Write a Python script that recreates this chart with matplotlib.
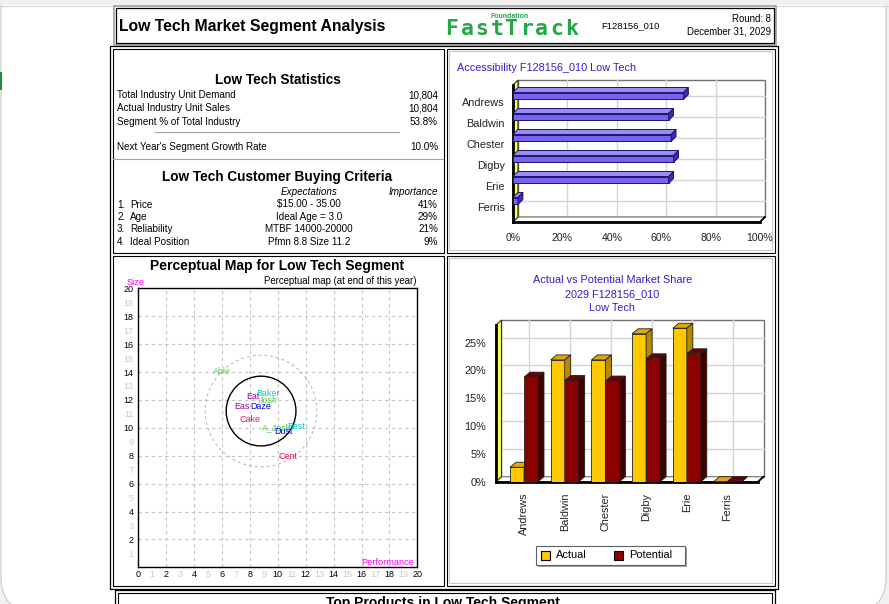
import numpy as np
import matplotlib.pyplot as plt
from matplotlib.patches import Rectangle, Polygon, Circle, FancyBboxPatch

plt.rcParams['font.family'] = ['Liberation Sans', 'DejaVu Sans']

W, H = 889, 604

# header
report_title = "Low Tech Market Segment Analysis"
team_id = "F128156_010"
round_text = "Round: 8"
date_text = "December 31, 2029"

# statistics panel
stat_labels = ["Total Industry Unit Demand", "Actual Industry Unit Sales", "Segment % of Total Industry"]
stat_values = ["10,804", "10,804", "53.8%"]
growth_label = "Next Year's Segment Growth Rate"
growth_value = "10.0%"
criteria = ["Price", "Age", "Reliability", "Ideal Position"]
expectations = ["$15.00 - 35.00", "Ideal Age = 3.0", "MTBF 14000-20000", "Pfmn 8.8 Size 11.2"]
importance = ["41%", "29%", "21%", "9%"]

# companies
companies = ["Andrews", "Baldwin", "Chester", "Digby", "Erie", "Ferris"]
accessibility = [69, 63, 64, 65, 63, 2]
actual_share = [2.6, 21.9, 21.9, 26.6, 27.6, 0.0]
potential_share = [18.8, 18.2, 18.1, 22.1, 23.0, 0.0]

# perceptual map
products = ["Able", "Eat", "Baker", "Josh", "Eas", "Daze", "Cake", "A_Josh", "Best", "Dust", "Cent"]
pfmn = [6.0, 8.22, 9.32, 9.3, 7.41, 8.76, 8.0, 9.94, 11.29, 10.43, 10.72]
size = [14.02, 12.23, 12.47, 11.99, 11.51, 11.51, 10.6, 10.0, 10.08, 9.77, 7.93]
prod_colors = ["#55d855", "#990099", "#00cccc", "#55cc44", "#990099", "#0000ee",
               "#ee1144", "#44cc44", "#00cccc", "#0000ee", "#ee1144"]
ideal_pfmn, ideal_size = 8.8, 11.2
fine_cut, rough_cut = 2.5, 4.0

fig = plt.figure(figsize=(W / 100, H / 100), dpi=100, facecolor='#f1f1f1')

bg = fig.add_axes([0, 0, 1, 1])
bg.set_xlim(0, W)
bg.set_ylim(H, 0)
bg.axis('off')


def box(x0, y0, x1, y1, ec='black', lw=0.8, fc='none', z=2):
    bg.add_patch(Rectangle((x0, y0), x1 - x0, y1 - y0, fc=fc, ec=ec, lw=lw, zorder=z))


def txt(x, y, s, size=7.1, ha='left', **kw):
    bg.text(x, y, s, fontsize=size, ha=ha, va='center', **kw)


def px_axes(x0, y0, x1, y1):
    return fig.add_axes([x0 / W, 1 - y1 / H, (x1 - x0) / W, (y1 - y0) / H])


# page
bg.add_patch(FancyBboxPatch((1, -40), 885, 652, boxstyle='round,pad=0,rounding_size=35',
                            fc='white', ec='#c4c4c4', lw=0.7, zorder=0))
box(0, 0, W, 5, ec='none', fc='#f0f0f0', z=1)
bg.plot([0, W], [5.5, 5.5], color='#d4d4d4', lw=0.8, zorder=1)
box(0, 72, 1.5, 90, ec='none', fc='#1f8f3f', z=1)

# header box
box(114, 6, 776, 45, ec='#a0a0a0', lw=1.2)
box(116, 8, 774, 43, ec='black', lw=0.9)
txt(119, 26, report_title, size=11.3, weight='bold')
for i, ch in enumerate("FastTrack"):
    bg.text(452 + 15 * i, 29, ch, fontsize=15.5, family='DejaVu Sans Mono', weight='bold',
            color='#22a845', ha='center', va='center')
txt(510, 16, "Foundation", size=5, ha='center', color='#22a845', weight='bold')
txt(601, 26, team_id, size=6.8)
txt(771, 19, round_text, size=6.9, ha='right')
txt(771, 32, date_text, size=6.9, ha='right')

# outer grid frame
box(110, 45.5, 777.5, 588.5, lw=0.9)
box(112.5, 48.5, 443.5, 252.5)
box(446.5, 48.5, 774.5, 252.5)
box(112.5, 255.5, 443.5, 585.5)
box(446.5, 255.5, 774.5, 585.5)
box(449, 51, 771.5, 249.5, ec='#c8c8c8', lw=0.8)
box(449, 258, 771.5, 582.5, ec='#c8c8c8', lw=0.8)

# statistics
txt(277.5, 80, "Low Tech Statistics", size=9.8, ha='center', weight='bold')
for k, (lab, val) in enumerate(zip(stat_labels, stat_values)):
    y = 95 + 13.3 * k
    txt(117, y, lab)
    txt(438, y, val, ha='right')
bg.plot([155, 399], [131.7, 131.7], color='#a0a0a0', lw=0.8)
txt(117, 147, growth_label)
txt(438, 147, growth_value, ha='right')
bg.plot([113, 443], [159.3, 159.3], color='#a0a0a0', lw=0.8)
txt(277.5, 177, "Low Tech Customer Buying Criteria", size=9.8, ha='center', weight='bold')
txt(309, 192, "Expectations", ha='center', style='italic')
txt(438, 192, "Importance", ha='right', style='italic')
for k in range(len(criteria)):
    y = 204.5 + 12.5 * k
    txt(117, y, f"{k + 1}.")
    txt(130, y, criteria[k])
    txt(309, y, expectations[k], ha='center')
    txt(438, y, importance[k], ha='right')

# ---------- accessibility (horizontal 3D bars) ----------
txt(457, 68, "Accessibility F128156_010 Low Tech", size=7.8, color='#3a18d0')
acc = px_axes(513, 80, 760, 222)
acc.set_xlim(0, 100)
floor_front, top_back = 5.70, -1.062
acc.set_ylim(floor_front, top_back)
acc.patch.set_visible(False)
for s in acc.spines.values():
    s.set_visible(False)
ddx, ddy = 2.0, 0.238
floor_back = floor_front - ddy
idx = np.arange(len(companies))
bar_y = idx - 0.3
acc.add_patch(Polygon([(ddx, floor_back), (ddx, top_back), (100 + ddx, top_back), (100 + ddx, floor_back)],
                      fc='white', ec='#707070', lw=1, clip_on=False, zorder=0))
for v in range(20, 100, 20):
    acc.plot([v + ddx, v + ddx], [top_back, floor_back], color='#d4d4d4', lw=1, clip_on=False, zorder=1)
for y in bar_y:
    acc.plot([ddx, 100 + ddx], [y, y], color='#d4d4d4', lw=1, clip_on=False, zorder=1)
acc.add_patch(Polygon([(0, floor_front), (ddx, floor_back), (100 + ddx, floor_back), (100, floor_front)],
                      fc='white', ec='#707070', lw=0.8, clip_on=False, zorder=1))
acc.add_patch(Polygon([(0, floor_front), (0, top_back + ddy), (ddx, top_back), (ddx, floor_back)],
                      fc='#ffff55', ec='#303030', lw=0.8, clip_on=False, zorder=2))
acc.plot([0, 100], [floor_front, floor_front], color='black', lw=2, clip_on=False, zorder=2)
acc.plot([0, 0], [top_back + ddy, floor_front], color='black', lw=2, clip_on=False, zorder=2)
acc.plot([100, 100 + ddx], [floor_front, floor_back], color='black', lw=1.3, clip_on=False, zorder=2)
bh = 0.333
acc.barh(bar_y, accessibility, height=bh, color='#7664f0', edgecolor='#1c1470', lw=0.7, zorder=3)
for y, v in zip(bar_y, accessibility):
    y0, y1 = y - bh / 2, y + bh / 2
    acc.add_patch(Polygon([(0, y0), (ddx, y0 - ddy), (v + ddx, y0 - ddy), (v, y0)],
                          fc='#9a8cf5', ec='#1c1470', lw=0.7, clip_on=False, zorder=3))
    acc.add_patch(Polygon([(v, y0), (v + ddx, y0 - ddy), (v + ddx, y1 - ddy), (v, y1)],
                          fc='#3b2ea8', ec='#1c1470', lw=0.7, clip_on=False, zorder=3))
acc.set_yticks(idx, companies)
acc.set_xticks(range(0, 101, 20), [f"{v}%" for v in range(0, 101, 20)])
acc.tick_params(axis='y', length=0, pad=6, labelsize=7.8, labelcolor='#222222')
acc.tick_params(axis='x', length=0, pad=8, labelsize=7.6, labelcolor='#222222')

# ---------- perceptual map ----------
txt(277.5, 266, "Perceptual Map for Low Tech Segment", size=10, ha='center', weight='bold')
txt(416, 281, "Perceptual map (at end of this year)", size=6.9, ha='right')
pm = px_axes(138.3, 288.3, 417.3, 567.3)
pm.set_xlim(0, 20)
pm.set_ylim(0, 20)
for s in pm.spines.values():
    s.set_linewidth(1)
for v in range(2, 20, 2):
    pm.axvline(v, color='#c4c4c4', lw=0.8, ls=(0, (3, 3)), zorder=0)
    pm.axhline(v, color='#c4c4c4', lw=0.8, ls=(0, (3, 3)), zorder=0)
pm.set_xticks(range(21))
pm.set_yticks(range(1, 21))
pm.tick_params(length=0, labelsize=6.5)
pm.tick_params(axis='x', pad=2)
pm.tick_params(axis='y', pad=3.5)
for lab, v in zip(pm.get_xticklabels(), range(21)):
    lab.set_color('black' if v % 2 == 0 else '#c8c8c8')
for lab, v in zip(pm.get_yticklabels(), range(1, 21)):
    lab.set_color('black' if v % 2 == 0 else '#c8c8c8')
pm.add_patch(Circle((ideal_pfmn, ideal_size), rough_cut, fill=False, ec='#b4b4b4', lw=0.7, ls=(0, (3, 3))))
pm.add_patch(Circle((ideal_pfmn, ideal_size), fine_cut, fill=False, ec='black', lw=1))
for name, x, y, c in zip(products, pfmn, size, prod_colors):
    pm.text(x, y, name, color=c, fontsize=6.4, ha='center', va='center')
pm.text(19.8, 0.35, "Performance", color='#ff00ff', fontsize=6.7, ha='right', va='center')
txt(126.5, 282.5, "Size", size=6.7, color='#ff00ff')

# ---------- actual vs potential (3D columns) ----------
txt(612.3, 280, "Actual vs Potential Market Share", size=7.8, ha='center', color='#3a18d0')
txt(612.3, 294, "2029 " + team_id, size=7.8, ha='center', color='#3a18d0')
txt(612.3, 308, "Low Tech", size=7.8, ha='center', color='#3a18d0')
ms = px_axes(496, 318, 765, 481.7)
xl, xr = -0.688, 5.75
ms.set_xlim(xl, 5.921)
ms.set_ylim(0, 29.44)
ms.patch.set_visible(False)
for s in ms.spines.values():
    s.set_visible(False)
wdx, wdy = 0.135, 0.9
wall_top = 29.08
ms.add_patch(Polygon([(xl + wdx, wdy), (xl + wdx, wall_top), (xr + wdx, wall_top), (xr + wdx, wdy)],
                     fc='white', ec='#707070', lw=1, clip_on=False, zorder=0))
for v in range(5, 30, 5):
    ms.plot([xl + wdx, xr + wdx], [v + wdy, v + wdy], color='#d4d4d4', lw=1, clip_on=False, zorder=1)
for i in idx:
    ms.plot([i + wdx, i + wdx], [wdy, wall_top], color='#d4d4d4', lw=1, clip_on=False, zorder=1)
ms.add_patch(Polygon([(xl, 0), (xl + wdx, wdy), (xr + wdx, wdy), (xr, 0)],
                     fc='white', ec='#707070', lw=0.8, clip_on=False, zorder=1))
ms.add_patch(Polygon([(xl, 0), (xl, wall_top - wdy), (xl + wdx, wall_top), (xl + wdx, wdy)],
                     fc='#ffff55', ec='#303030', lw=0.8, clip_on=False, zorder=2))
ms.plot([xl, xr], [0, 0], color='black', lw=2, clip_on=False, zorder=2)
ms.plot([xl, xl], [0, wall_top - wdy], color='black', lw=2, clip_on=False, zorder=2)
ms.plot([xr, xr + wdx], [0, wdy], color='black', lw=1.3, clip_on=False, zorder=2)

bw = 0.344
bdx, bdy = 0.147, 0.9


def col3d(xs, vals, front, top, side, z):
    ms.bar(xs, vals, width=bw, color=front, edgecolor='#202020', lw=0.6, zorder=z)
    for x, v in zip(xs, vals):
        x0, x1 = x - bw / 2, x + bw / 2
        ms.add_patch(Polygon([(x0, v), (x0 + bdx, v + bdy), (x1 + bdx, v + bdy), (x1, v)],
                             fc=top, ec='#202020', lw=0.6, clip_on=False, zorder=z))
        ms.add_patch(Polygon([(x1, 0), (x1, v), (x1 + bdx, v + bdy), (x1 + bdx, bdy)],
                             fc=side, ec='#202020', lw=0.6, clip_on=False, zorder=z))


col3d(idx - bw / 2, actual_share, '#ffc800', '#e0a800', '#b88a00', 3)
col3d(idx + bw / 2, potential_share, '#8c0000', '#6a0000', '#3f0000', 4)
ms.set_yticks(range(0, 30, 5), [f"{v}%" for v in range(0, 30, 5)])
ms.set_xticks(idx, companies, rotation=90)
ms.tick_params(axis='y', length=0, pad=7, labelsize=7.8, labelcolor='#222222')
ms.tick_params(axis='x', length=0, pad=8, labelsize=7.8, labelcolor='#222222')

# legend
box(538, 548, 687, 567, ec='none', fc='#a0a0a0')
box(536, 546, 685, 565, ec='#606060', fc='white', z=3)
box(541, 551, 550, 560, ec='black', fc='#ffc800', z=4)
txt(556, 555.5, "Actual", size=7.9)
box(614, 551, 623, 560, ec='black', fc='#8c0000', z=4)
txt(629, 555.5, "Potential", size=7.9)

# bottom box
box(115, 590, 775, 620, lw=0.9)
box(118, 593, 772, 620, lw=0.8)
bg.text(443, 596, "Top Products in Low Tech Segment", fontsize=10, weight='bold', ha='center', va='top')

fig.savefig('out.png', dpi=100, facecolor=fig.get_facecolor())
